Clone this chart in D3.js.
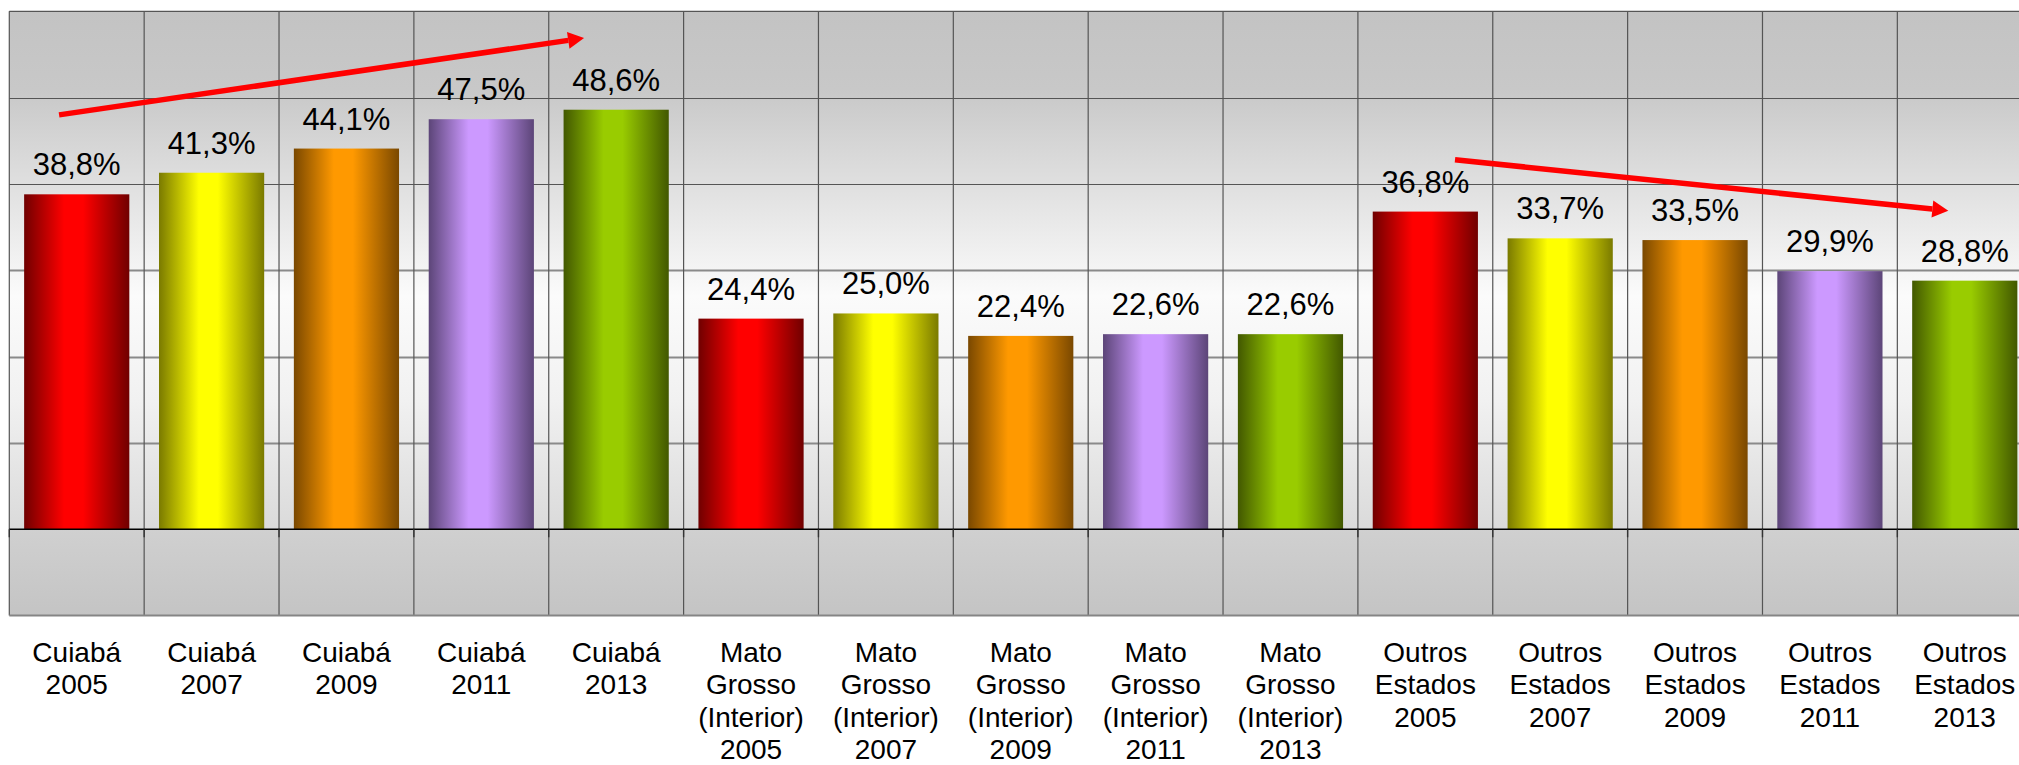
<!DOCTYPE html>
<html>
<head>
<meta charset="utf-8">
<script src="https://cdn.jsdelivr.net/npm/d3@7"></script>
<style>
  html, body { margin: 0; padding: 0; background: #ffffff; }
  svg { display: block; }
  text { font-family: "Liberation Sans", Arial, sans-serif; fill: #000; }
</style>
</head>
<body>
<svg id="chart" width="2019" height="765"></svg>
<script>
// ---- data ----
const categories = [
  "Cuiabá 2005", "Cuiabá 2007", "Cuiabá 2009", "Cuiabá 2011", "Cuiabá 2013",
  "Mato Grosso (Interior) 2005", "Mato Grosso (Interior) 2007", "Mato Grosso (Interior) 2009",
  "Mato Grosso (Interior) 2011", "Mato Grosso (Interior) 2013",
  "Outros Estados 2005", "Outros Estados 2007", "Outros Estados 2009",
  "Outros Estados 2011", "Outros Estados 2013"
];
const labelLines = [
  ["Cuiabá", "2005"], ["Cuiabá", "2007"], ["Cuiabá", "2009"], ["Cuiabá", "2011"], ["Cuiabá", "2013"],
  ["Mato", "Grosso", "(Interior)", "2005"], ["Mato", "Grosso", "(Interior)", "2007"],
  ["Mato", "Grosso", "(Interior)", "2009"], ["Mato", "Grosso", "(Interior)", "2011"],
  ["Mato", "Grosso", "(Interior)", "2013"],
  ["Outros", "Estados", "2005"], ["Outros", "Estados", "2007"], ["Outros", "Estados", "2009"],
  ["Outros", "Estados", "2011"], ["Outros", "Estados", "2013"]
];
const values = [38.8, 41.3, 44.1, 47.5, 48.6, 24.4, 25.0, 22.4, 22.6, 22.6, 36.8, 33.7, 33.5, 29.9, 28.8];
const years = ["2005", "2007", "2009", "2011", "2013"];
const yearColors = [
  { dark: "#700000", bright: "#ff0000" },
  { dark: "#7a7a00", bright: "#ffff00" },
  { dark: "#7a4800", bright: "#ff9900" },
  { dark: "#5c4578", bright: "#cc99ff" },
  { dark: "#425800", bright: "#99cc00" }
];
const yTicks = [-10, 0, 10, 20, 30, 40, 50, 60];
// trend arrows: x in category units (0 = left edge of plot), y in %
const arrows = [
  { x0: 0.369, y0: 48.0, x1: 4.262, y1: 56.9 },
  { x0: 10.72, y0: 42.8, x1: 14.378, y1: 36.9 }
];

// ---- layout ----
const W = 2019, H = 765;
const plotLeft = 9.3, plotRight = 2032.2, plotTop = 11.3, plotBottom = 615.6;

const svg = d3.select("#chart");
const defs = svg.append("defs");

const x = d3.scaleBand().domain(categories).range([plotLeft, plotRight]).paddingInner(0.22).paddingOuter(0.11);
const xc = d3.scaleLinear().domain([0, categories.length]).range([plotLeft, plotRight]);
const y = d3.scaleLinear().domain([-10, 60]).range([plotBottom, plotTop]);

// background gradients
const bgUpper = defs.append("linearGradient").attr("id", "bgUpper")
  .attr("x1", 0).attr("y1", 0).attr("x2", 0).attr("y2", 1);
bgUpper.append("stop").attr("offset", "0%").attr("stop-color", "#c3c3c3");
bgUpper.append("stop").attr("offset", "15%").attr("stop-color", "#c8c8c8");
bgUpper.append("stop").attr("offset", "55%").attr("stop-color", "#fbfbfb");
bgUpper.append("stop").attr("offset", "75%").attr("stop-color", "#f1f1f1");
bgUpper.append("stop").attr("offset", "100%").attr("stop-color", "#dadada");
const bgLower = defs.append("linearGradient").attr("id", "bgLower")
  .attr("x1", 0).attr("y1", 0).attr("x2", 0).attr("y2", 1);
bgLower.append("stop").attr("offset", "0%").attr("stop-color", "#d0d0d0");
bgLower.append("stop").attr("offset", "100%").attr("stop-color", "#c4c4c4");

svg.append("rect").attr("x", plotLeft).attr("y", y(60))
  .attr("width", plotRight - plotLeft).attr("height", y(0) - y(60)).attr("fill", "url(#bgUpper)");
svg.append("rect").attr("x", plotLeft).attr("y", y(0))
  .attr("width", plotRight - plotLeft).attr("height", y(-10) - y(0)).attr("fill", "url(#bgLower)");

// bar gradients
yearColors.forEach((c, i) => {
  const g = defs.append("linearGradient").attr("id", "bar" + i)
    .attr("x1", 0).attr("y1", 0).attr("x2", 1).attr("y2", 0);
  g.append("stop").attr("offset", "0%").attr("stop-color", c.dark);
  g.append("stop").attr("offset", "38%").attr("stop-color", c.bright);
  g.append("stop").attr("offset", "56%").attr("stop-color", c.bright);
  g.append("stop").attr("offset", "100%").attr("stop-color", c.dark);
});

// horizontal gridlines
svg.append("g").selectAll("line").data(yTicks.filter(t => t !== 0 && t !== -10)).join("line")
  .attr("x1", plotLeft).attr("x2", plotRight)
  .attr("y1", d => Math.round(y(d)) + 0.5).attr("y2", d => Math.round(y(d)) + 0.5)
  .attr("stroke", d => d >= 40 ? "#555" : "#8a8a8a").attr("stroke-width", d => d >= 40 ? 1.2 : 1.8);

// vertical gridlines (category boundaries)
const bounds = d3.range(categories.length + 1).map(i => xc(i));
svg.append("g").selectAll("line").data(bounds).join("line")
  .attr("x1", d => d).attr("x2", d => d)
  .attr("y1", y(60)).attr("y2", y(-10))
  .attr("stroke", "#555").attr("stroke-width", 1.2);

// bars
svg.append("g").selectAll("rect").data(values).join("rect")
  .attr("x", (d, i) => x(categories[i]))
  .attr("y", d => y(d))
  .attr("width", x.bandwidth())
  .attr("height", d => y(0) - y(d))
  .attr("fill", (d, i) => "url(#bar" + (i % years.length) + ")");

// axis lines
svg.append("line").attr("x1", plotLeft).attr("x2", plotRight)
  .attr("y1", y(0)).attr("y2", y(0)).attr("stroke", "#000").attr("stroke-width", 1.6);
svg.append("line").attr("x1", plotLeft).attr("x2", plotRight)
  .attr("y1", y(-10)).attr("y2", y(-10)).attr("stroke", "#858585").attr("stroke-width", 2);
svg.append("line").attr("x1", plotLeft).attr("x2", plotRight)
  .attr("y1", y(60)).attr("y2", y(60)).attr("stroke", "#555").attr("stroke-width", 1.2);
svg.append("g").selectAll("line").data(bounds).join("line")
  .attr("x1", d => d).attr("x2", d => d)
  .attr("y1", y(0)).attr("y2", y(0) + 8)
  .attr("stroke", "#333").attr("stroke-width", 1.4);

// value labels
const fmt = v => d3.format(".1f")(v).replace(".", ",") + "%";
svg.append("g").selectAll("text").data(values).join("text")
  .attr("x", (d, i) => x(categories[i]) + x.bandwidth() / 2)
  .attr("y", d => y(d) - 19)
  .attr("text-anchor", "middle")
  .attr("font-size", 31)
  .text(d => fmt(d));

// category labels
const lab = svg.append("g").selectAll("text").data(labelLines).join("text")
  .attr("x", (d, i) => x(categories[i]) + x.bandwidth() / 2)
  .attr("y", 661.5)
  .attr("text-anchor", "middle")
  .attr("font-size", 28);
lab.selectAll("tspan").data(d => d).join("tspan")
  .attr("x", function () { return d3.select(this.parentNode).attr("x"); })
  .attr("dy", (d, j) => j === 0 ? 0 : 32.5)
  .text(d => d);

// trend arrows
arrows.forEach(a => {
  const X0 = xc(a.x0), Y0 = y(a.y0), X1 = xc(a.x1), Y1 = y(a.y1);
  const ang = Math.atan2(Y1 - Y0, X1 - X0);
  const headLen = 16, headHalf = 8.5;
  const bx = X1 - headLen * Math.cos(ang), by = Y1 - headLen * Math.sin(ang);
  svg.append("line").attr("x1", X0).attr("y1", Y0).attr("x2", bx).attr("y2", by)
    .attr("stroke", "#ff0000").attr("stroke-width", 5.5);
  const px = -Math.sin(ang), py = Math.cos(ang);
  svg.append("path")
    .attr("d", `M${X1},${Y1}L${bx + px * headHalf},${by + py * headHalf}L${bx - px * headHalf},${by - py * headHalf}Z`)
    .attr("fill", "#ff0000");
});
</script>
</body>
</html>
